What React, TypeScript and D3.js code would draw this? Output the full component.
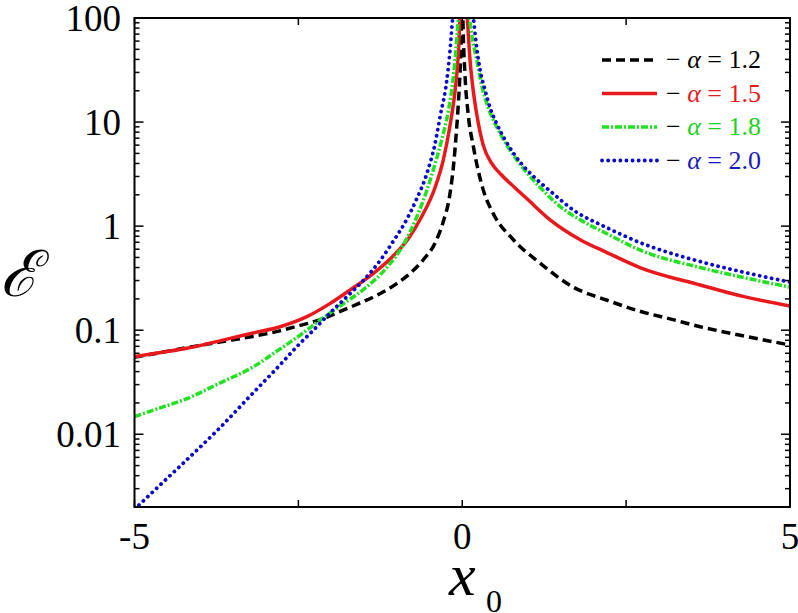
import React from 'react';
import * as d3 from 'd3';

type Pt = [number, number];

const alpha12: Pt[] = [
  [-5, 0.055], [-4.6, 0.061], [-4.2, 0.068], [-3.7, 0.077], [-3.2, 0.087], [-2.8, 0.098],
  [-2.5, 0.11], [-2.15, 0.127], [-1.9, 0.148], [-1.6, 0.178], [-1.25, 0.225], [-1.0, 0.28],
  [-0.8, 0.35], [-0.6, 0.47], [-0.4, 0.72], [-0.29, 1.1], [-0.19, 2.0], [-0.13, 4],
  [-0.09, 8], [-0.06, 15], [-0.03, 35], [-0.01, 100], [0, 400], [0.01, 100], [0.04, 30],
  [0.09, 12], [0.17, 5.8], [0.32, 2.23], [0.47, 1.33], [0.78, 0.74], [1.19, 0.44],
  [1.69, 0.26], [2.2, 0.195], [2.71, 0.152], [3.2, 0.127], [3.63, 0.108], [4.3, 0.088], [5, 0.072],
];

const alpha15: Pt[] = [
  [-5, 0.0557], [-4.6, 0.061], [-4.2, 0.067], [-3.7, 0.079], [-3.19, 0.094], [-2.78, 0.108],
  [-2.37, 0.135], [-2.02, 0.18], [-1.71, 0.244], [-1.36, 0.35], [-1.05, 0.52], [-0.82, 0.76],
  [-0.62, 1.23], [-0.42, 2.3], [-0.29, 4.3], [-0.19, 9], [-0.11, 20], [-0.06, 45], [-0.035, 100],
  [0, 400], [0.077, 100], [0.118, 40], [0.16, 22], [0.22, 12], [0.32, 6.0], [0.45, 4.0],
  [0.6, 3.1], [0.8, 2.35], [0.98, 1.85], [1.34, 1.15], [1.8, 0.74], [2.2, 0.56], [2.71, 0.4],
  [3.63, 0.272], [4.3, 0.21], [5, 0.171],
];

const alpha18: Pt[] = [
  [-5, 0.0148], [-4.6, 0.018], [-4.2, 0.022], [-3.7, 0.031], [-3.2, 0.044], [-2.78, 0.066],
  [-2.47, 0.09], [-2.12, 0.132], [-1.81, 0.18], [-1.46, 0.26], [-1.15, 0.4], [-0.9, 0.66],
  [-0.7, 1.2], [-0.54, 2.2], [-0.44, 3.5], [-0.32, 6.5], [-0.21, 13], [-0.146, 24],
  [-0.096, 49], [-0.06, 100], [0, 400], [0.11, 100], [0.16, 60], [0.22, 40], [0.3, 22],
  [0.4, 13.5], [0.525, 9], [0.68, 6.0], [0.93, 3.6], [1.19, 2.35], [1.49, 1.55], [1.8, 1.15],
  [2.2, 0.85], [2.71, 0.59], [3.63, 0.4], [4.3, 0.32], [5, 0.259],
];

const alpha20: Pt[] = [
  [-5, 0.0019], [-4.6, 0.0033], [-4.2, 0.0057], [-3.7, 0.0115], [-3.19, 0.025], [-2.8, 0.045],
  [-2.5, 0.072], [-2.27, 0.1], [-2.02, 0.146], [-1.76, 0.21], [-1.51, 0.3], [-1.25, 0.47],
  [-1.05, 0.72], [-0.85, 1.15], [-0.7, 1.8], [-0.54, 3.2], [-0.42, 6], [-0.33, 12],
  [-0.24, 24], [-0.19, 46], [-0.146, 100], [0, 400], [0.17, 100], [0.22, 52], [0.28, 30],
  [0.35, 20], [0.42, 14], [0.53, 9.5], [0.65, 6.8], [0.9, 4.0], [1.1, 2.95], [1.35, 2.15],
  [1.7, 1.42], [2.2, 0.97], [2.7, 0.7], [3.63, 0.456], [4.3, 0.36], [5, 0.29],
];

const alphaLabels = ['1.2', '1.5', '1.8', '2.0'];
const xMajorTicks = [-5, -2.5, 0, 2.5, 5];
const xTickLabels = [-5, 0, 5];
const yTickLabels = [100, 10, 1, 0.1, 0.01];

const SERIF = 'Liberation Serif';

export default function App() {
  const W = 798;
  const H = 613;
  const left = 134.5, right = 790, top = 18, bottom = 507;
  const x = d3.scaleLinear().domain([-5, 5]).range([left, right]);
  const y = d3.scaleLog().domain([0.002, 100]).range([bottom, top]);
  const line = d3
    .line<Pt>()
    .x((d) => x(d[0]))
    .y((d) => y(d[1]))
    .curve(d3.curveMonotoneX);

  const styles = [
    { data: alpha12, color: '#000000', dash: '9,5', cap: 'butt' as const, w: 3.5 },
    { data: alpha15, color: '#e8191c', dash: undefined, cap: 'butt' as const, w: 3.5 },
    { data: alpha18, color: '#22e022', dash: '7,2,2,2', cap: 'butt' as const, w: 3.5 },
    { data: alpha20, color: '#0a0ac8', dash: '0.1,6', cap: 'round' as const, w: 3.8 },
  ];
  const textColors = ['#000000', '#e8191c', '#22d022', '#1a1ab8'];

  const yTicks: { v: number; major: boolean }[] = [];
  for (let e = -3; e <= 2; e++) {
    for (let m = 1; m <= 9; m++) {
      const v = m * Math.pow(10, e);
      if (v >= 0.002 * 0.999 && v <= 100 * 1.001) yTicks.push({ v, major: m === 1 });
    }
  }

  const legendY = [60, 93.5, 127, 160.5];

  return (
    <div style={{ position: 'fixed', left: 0, top: 0 }}>
      <svg width={W} height={H} style={{ display: 'block', background: '#fff' }}>
        <defs>
          <clipPath id="plotClip">
            <rect x={left} y={top} width={right - left} height={bottom - top} />
          </clipPath>
        </defs>

        <g clipPath="url(#plotClip)">
          {styles.map((s, i) => (
            <path
              key={i}
              d={line(s.data) || ''}
              fill="none"
              stroke={s.color}
              strokeWidth={s.w}
              strokeDasharray={s.dash}
              strokeLinecap={s.cap}
              strokeLinejoin="round"
            />
          ))}
        </g>

        <rect x={left} y={top} width={right - left} height={bottom - top} fill="none" stroke="#000" strokeWidth={2} />

        {yTicks.map((t, i) => {
          const yy = y(t.v);
          const len = t.major ? 9 : 5;
          return (
            <g key={i}>
              <line x1={left} x2={left + len} y1={yy} y2={yy} stroke="#000" strokeWidth={1.5} />
              <line x1={right} x2={right - len} y1={yy} y2={yy} stroke="#000" strokeWidth={1.5} />
            </g>
          );
        })}

        {xMajorTicks.map((t, i) => (
          <g key={i}>
            <line x1={x(t)} x2={x(t)} y1={bottom} y2={bottom - 7} stroke="#000" strokeWidth={1.5} />
            <line x1={x(t)} x2={x(t)} y1={top} y2={top + 7} stroke="#000" strokeWidth={1.5} />
          </g>
        ))}

        {yTickLabels.map((v, i) => (
          <text
            key={i}
            x={121}
            y={y(v)}
            dy="0.34em"
            textAnchor="end"
            fontFamily={SERIF}
            fontSize={37}
            fill="#000"
          >
            {String(v)}
          </text>
        ))}

        {xTickLabels.map((v, i) => (
          <text
            key={i}
            x={x(v)}
            y={549}
            textAnchor="middle"
            fontFamily={SERIF}
            fontSize={37}
            fill="#000"
          >
            {v < 0 ? '-' + Math.abs(v) : String(v)}
          </text>
        ))}

        <text x={449} y={595} fontFamily={SERIF} fontStyle="italic" fontSize={60} fill="#000">
          x
        </text>
        <text x={486} y={612} fontFamily={SERIF} fontSize={32} fill="#000">
          0
        </text>

        <text x={0} y={296} fontFamily={SERIF} fontStyle="italic" fontSize={64} fill="#000">
          ℰ
        </text>

        {styles.map((s, i) => (
          <g key={i}>
            <line
              x1={602}
              x2={657}
              y1={legendY[i]}
              y2={legendY[i]}
              stroke={s.color}
              strokeWidth={s.w}
              strokeDasharray={s.dash}
              strokeLinecap={s.cap}
            />
            <text x={666} y={legendY[i] + 8} fontFamily={SERIF} fontSize={26}>
              <tspan fill="#000">− </tspan>
              <tspan fill={textColors[i]} fontStyle="italic">α</tspan>
              <tspan fill={textColors[i]}> = {alphaLabels[i]}</tspan>
            </text>
          </g>
        ))}
      </svg>
    </div>
  );
}
